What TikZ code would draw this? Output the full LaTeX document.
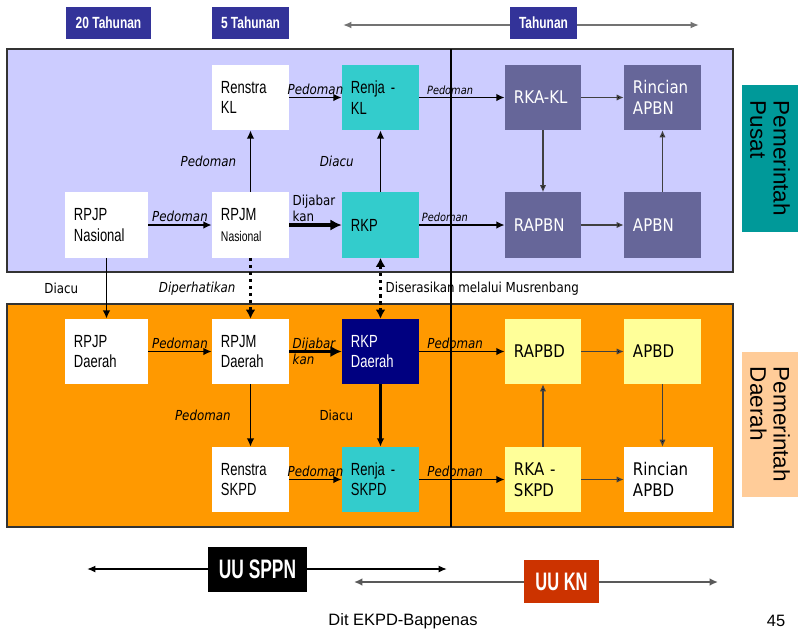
\documentclass[tikz,border=0pt]{standalone}
\usepackage{fontspec}
\setmainfont{Liberation Sans}
\newfontfamily\narrowfont[FakeStretch=0.74]{Liberation Sans}
\newfontfamily\vfont[FakeStretch=0.86]{DejaVu Sans}
\newfontfamily\tallfont[FakeStretch=0.65]{Liberation Sans}
\usepackage{tikz}
\usetikzlibrary{arrows,arrows.meta,positioning}

\definecolor{judulbiru}{HTML}{333399}
\definecolor{pusatbg}{HTML}{CCCCFF}
\definecolor{daerahbg}{HTML}{FF9900}
\definecolor{tosca}{HTML}{33CCCC}
\definecolor{ungu}{HTML}{666699}
\definecolor{navy}{HTML}{000080}
\definecolor{kuning}{HTML}{FFFF99}
\definecolor{pusatlbl}{HTML}{009999}
\definecolor{daerahlbl}{HTML}{FFCC99}
\definecolor{merahuu}{HTML}{CC3300}

\begin{document}
\begin{tikzpicture}[x=0.025cm,y=-0.025cm]
        \useasboundingbox (0,0) rectangle (798,634);
        % panel pusat dan daerah
        \filldraw[fill=pusatbg,draw=black!80,line width=1pt] (7,49) rectangle (733,272);
        \filldraw[fill=daerahbg,draw=black!80,line width=1pt] (7,304) rectangle (733,527);
        \draw[line width=1.1pt] (451,49) -- (451,527);

        \tikzstyle{kotak} = [minimum height=1.625cm, inner xsep=0.225cm, inner ysep=0pt, text width=1.475cm, align=left, font=\narrowfont\fontsize{12.5}{14.5}\selectfont]
        \tikzstyle{kotakv} = [kotak, font=\vfont\fontsize{12.4}{15}\selectfont]
        \tikzstyle{judul} = [fill=judulbiru, text=white, minimum height=0.8cm, inner sep=0pt, font=\narrowfont\bfseries\fontsize{11.5}{13}\selectfont]
        \tikzstyle{ket} = [font=\vfont\itshape\fontsize{9.8}{11}\selectfont, inner sep=1.5pt]
        \tikzstyle{ketkecil} = [ket, font=\vfont\itshape\fontsize{8.1}{9}\selectfont]
        \tikzstyle{kettegak} = [font=\vfont\fontsize{9.8}{11.5}\selectfont, inner sep=1.5pt]

        % judul waktu
        \coordinate (tki) at (343,25);
        \coordinate (tka) at (699,25);
        \draw[{Latex[length=6pt,width=5pt]}-{Latex[length=6pt,width=5pt]},line width=1.3pt,draw=black!55] (tki) -- (tka);
        \node[judul, minimum width=2.125cm] (dua) at (108.5,23) {20 Tahunan};
        \node[judul, minimum width=1.925cm] (lima) at (250.5,23) {5 Tahunan};
        \node[judul, minimum width=1.675cm] (tahun) at (543.5,23) {Tahunan};

        % pusat
        \node[kotak, fill=white] (renstrakl) at (250.5,97.5) {Renstra\\KL};
        \node[kotak, fill=tosca] (renjakl) at (380.5,97.5) {Renja -\\KL};
        \node[kotakv, fill=ungu, text=white, text width=1.45cm] (rkakl) at (543,97.5) {RKA-KL};
        \node[kotakv, fill=ungu, text=white] (rincianapbn) at (662.5,97.5) {Rincian\\APBN};
        \node[kotak, fill=white, text width=1.625cm] (rpjpnas) at (106.5,225) {RPJP\\Nasional};
        \node[kotak, fill=white] (rpjmnas) at (250.5,225) {RPJM\\{\fontsize{10}{12}\selectfont Nasional}};
        \node[kotak, fill=tosca] (rkp) at (380.5,225) {RKP};
        \node[kotakv, fill=ungu, text=white, text width=1.45cm] (rapbn) at (543,225) {RAPBN};
        \node[kotakv, fill=ungu, text=white] (apbn) at (662.5,225) {APBN};

        % daerah
        \node[kotak, fill=white, text width=1.625cm] (rpjpda) at (106.5,351.5) {RPJP\\Daerah};
        \node[kotak, fill=white] (rpjmda) at (250.5,351.5) {RPJM\\Daerah};
        \node[kotak, fill=navy, text=white] (rkpda) at (380.5,351.5) {RKP\\Daerah};
        \node[kotakv, fill=kuning, text width=1.45cm] (rapbd) at (543,351.5) {RAPBD};
        \node[kotakv, fill=kuning] (apbd) at (662.5,351.5) {APBD};
        \node[kotak, fill=white] (renstraskpd) at (250.5,479.5) {Renstra\\SKPD};
        \node[kotak, fill=tosca] (renjaskpd) at (380.5,479.5) {Renja -\\SKPD};
        \node[kotakv, fill=kuning, text width=1.45cm] (rkaskpd) at (543,479.5) {RKA -\\SKPD};
        \node[kotakv, fill=white, text width=1.775cm] (rincianapbd) at (668.5,479.5) {Rincian\\APBD};

        % label samping
        \node[fill=pusatlbl, rotate=-90, minimum width=3.675cm, minimum height=1.4cm, inner sep=0pt, align=left, font=\fontsize{16}{16.5}\selectfont] (pusat) at (770,158.5) {Pemerintah\\Pusat};
        \node[fill=daerahlbl, rotate=-90, minimum width=3.625cm, minimum height=1.4cm, inner sep=0pt, align=left, font=\fontsize{16}{16.5}\selectfont] (daerah) at (770,424.5) {Pemerintah\\Daerah};

        \tikzstyle{panah} = [-{Latex[length=6pt,width=5.5pt]}, line width=1.3pt]
        \tikzstyle{panahtipis} = [-{Latex[length=5pt,width=4.5pt]}, line width=0.9pt, draw=black!75]
        \tikzstyle{panahtebal} = [-{Latex[length=8pt,width=8pt]}, line width=2.8pt]
        \tikzstyle{titik} = [-{Latex[length=6.5pt,width=7pt]}, line width=2.4pt, dash pattern=on 2.4pt off 2.6pt]

        \path[panah]
        (renstrakl) edge node[ket,above] {Pedoman} (renjakl)
        (renjakl) edge node[ketkecil,above,pos=0.36] {Pedoman} (rkakl)
        (rpjpnas) edge node[ket,above] {Pedoman} (rpjmnas)
        (rpjmnas) edge node[ket,left,xshift=-8pt] {Pedoman} (renstrakl)
        (rkp) edge node[ket,left,xshift=-17pt] {Diacu} (renjakl)
        (rkp) edge node[ketkecil,above,pos=0.3] {Pedoman} (rapbn)
        (rpjpnas) edge node[kettegak,left,xshift=-18pt] {Diacu} (rpjpda)
        (rpjpda) edge node[ket,above] {Pedoman} (rpjmda)
        (rpjmda) edge node[ket,left,xshift=-12pt] {Pedoman} (renstraskpd)
        (renstraskpd) edge node[ket,above] {Pedoman} (renjaskpd)
        (rkpda) edge node[ket,above,pos=0.42] {Pedoman} (rapbd)
        (renjaskpd) edge node[ket,above,pos=0.42] {Pedoman} (rkaskpd);
        \path[panah,line width=1.8pt]
        (rkpda) edge node[kettegak,left,xshift=-17pt] {Diacu} (renjaskpd);
        \path[panahtipis]
        (rkakl) edge (rincianapbn)
        (rkakl) edge (rapbn)
        (rapbn) edge (apbn)
        (apbn) edge (rincianapbn)
        (rapbd) edge (apbd)
        (apbd) edge (apbd |- rincianapbd.north)
        (rkaskpd) edge (rapbd)
        (rkaskpd) edge (rincianapbd);
        \path[panahtebal]
        (rpjmnas) edge node[kettegak,pos=0,anchor=south west,align=left,inner sep=1pt] {Dijabar\\kan} (rkp)
        (rpjmda) edge node[ket,pos=0,anchor=west,align=left,inner sep=1pt] {Dijabar\\kan} (rkpda);
        \path[titik]
        (rpjmnas) edge node[ket,left,xshift=-8pt] {Diperhatikan} (rpjmda);
        \path[titik,{Latex[length=6.5pt,width=7pt]}-{Latex[length=6.5pt,width=7pt]}]
        (rkp) edge node[kettegak,right,xshift=1pt] {Diserasikan melalui Musrenbang} (rkpda);

        % undang-undang
        \coordinate (ski) at (87,569);
        \coordinate (ska) at (447,569);
        \coordinate (kki) at (354,582);
        \coordinate (kka) at (718,582);
        \draw[{Latex[length=6pt,width=5pt]}-{Latex[length=6pt,width=5pt]},line width=1.1pt] (ski) -- (ska);
        \draw[{Latex[length=6pt,width=5.5pt]}-{Latex[length=6pt,width=5.5pt]},line width=1.6pt,draw=black!65] (kki) -- (kka);
        \node[fill=black, text=white, minimum width=2.475cm, minimum height=1.125cm, inner sep=0pt, font=\tallfont\bfseries\fontsize{19}{21}\selectfont] (sppn) at (257.5,569) {UU SPPN};
        \node[fill=merahuu, text=white, minimum width=1.875cm, minimum height=1.075cm, inner sep=0pt, font=\tallfont\bfseries\fontsize{18}{20}\selectfont] (kn) at (561.5,581.5) {UU KN};

        \node[font=\fontsize{11.7}{13}\selectfont] (sumber) at (403,621) {Dit EKPD-Bappenas};
        \node[font=\fontsize{11.7}{13}\selectfont] (hal) at (776,621) {45};
\end{tikzpicture}
\end{document}
